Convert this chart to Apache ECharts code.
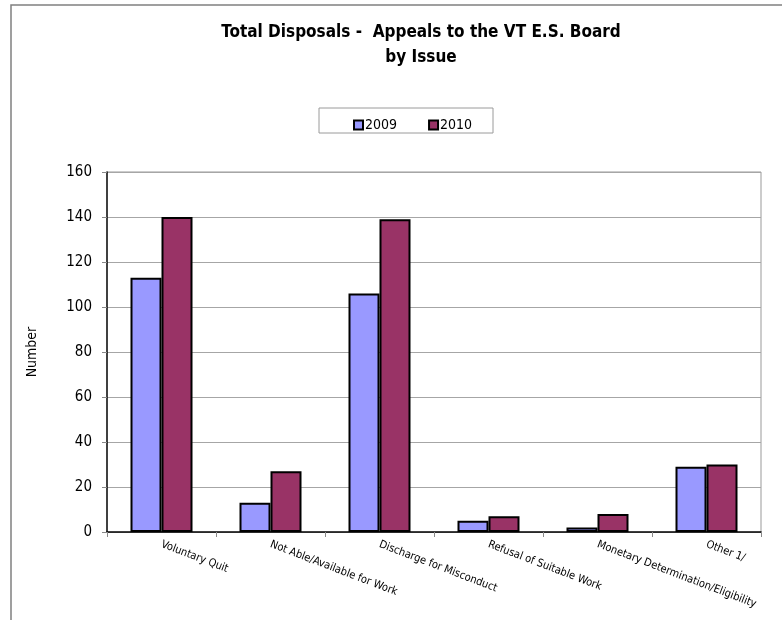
<!DOCTYPE html>
<html>
<head>
<meta charset="utf-8">
<script src="https://cdn.jsdelivr.net/npm/echarts@6/dist/echarts.min.js"></script>
<style>
  html, body { margin: 0; padding: 0; background: #fff; }
  #chart { width: 782px; height: 620px; }
</style>
</head>
<body>
<div id="chart"></div>
<script>
// data
const issues = [
  'Voluntary Quit',
  'Not Able/Available for Work',
  'Discharge for Misconduct',
  'Refusal of Suitable Work',
  'Monetary Determination/Eligibility',
  'Other 1/'
]
const values2009 = [113, 13, 106, 5, 2, 29]
const values2010 = [140, 27, 139, 7, 8, 30]
const yTicks = [0, 20, 40, 60, 80, 100, 120, 140, 160]

const narrow = '"Liberation Sans Narrow", "DejaVu Sans Condensed", "Liberation Sans", sans-serif'

const chart = echarts.init(document.getElementById('chart'))

const option = {
  backgroundColor: '#fff',
  animation: false,
  textStyle: { fontFamily: narrow, color: '#000' },
  title: {
    text: 'Total Disposals -  Appeals to the VT E.S. Board\nby Issue',
    left: 416,
    top: 15,
    textAlign: 'center',
    textStyle: {
      fontFamily: narrow,
      fontSize: 17,
      fontWeight: 'bold',
      lineHeight: 25,
      color: '#000'
    }
  },
  graphic: [
    {
      // outer chart frame (left and top edges visible)
      type: 'rect',
      shape: { x: 11, y: 5, width: 800, height: 700 },
      style: { fill: 'none', stroke: '#808080', lineWidth: 1.5 },
      silent: true
    },
    {
      // legend frame
      type: 'rect',
      shape: { x: 319, y: 108, width: 174, height: 25 },
      style: { fill: 'none', stroke: '#9a9a9a', lineWidth: 1 },
      silent: true
    },
    {
      // plot area frame top / right
      type: 'polyline',
      shape: { points: [[107, 172], [761, 172], [761, 532]] },
      style: { fill: 'none', stroke: '#999', lineWidth: 1 },
      silent: true
    }
  ],
  legend: {
    left: 348,
    top: 113,
    itemWidth: 9,
    itemHeight: 9,
    itemGap: 31,
    icon: 'rect',
    textStyle: { fontFamily: narrow, fontSize: 14, color: '#000', padding: [0, 0, 0, -3] },
    data: ['2009', '2010']
  },
  grid: {
    left: 107,
    right: 21,
    top: 172,
    bottom: 88,
    containLabel: false
  },
  xAxis: {
    type: 'category',
    data: issues,
    axisLine: { lineStyle: { color: '#000', width: 1.5 } },
    axisTick: { show: true, alignWithLabel: false, length: 5, lineStyle: { color: '#888' } },
    axisLabel: {
      interval: 0,
      rotate: -21,
      margin: 12,
      fontFamily: narrow,
      fontSize: 11,
      color: '#000'
    }
  },
  yAxis: {
    type: 'value',
    min: 0,
    max: 160,
    interval: 20,
    name: 'Number',
    nameLocation: 'middle',
    nameGap: 68,
    nameRotate: 90,
    nameTextStyle: { fontFamily: narrow, fontSize: 14, color: '#000' },
    axisLine: { show: true, lineStyle: { color: '#000', width: 1.5 } },
    axisTick: { show: true, length: 5, lineStyle: { color: '#888' } },
    axisLabel: {
      fontFamily: narrow,
      fontSize: 15,
      color: '#000',
      margin: 15,
      formatter: v => (yTicks.includes(v) ? String(v) : '')
    },
    splitLine: { show: true, lineStyle: { color: '#a6a6a6', width: 1 } }
  },
  series: [
    {
      name: '2009',
      type: 'bar',
      data: values2009,
      barWidth: 31,
      barGap: '0%',
      itemStyle: { color: '#9999FF', borderColor: '#000', borderWidth: 2 }
    },
    {
      name: '2010',
      type: 'bar',
      data: values2010,
      barWidth: 31,
      barGap: '0%',
      itemStyle: { color: '#993366', borderColor: '#000', borderWidth: 2 }
    }
  ]
}

chart.setOption(option)
</script>
</body>
</html>
